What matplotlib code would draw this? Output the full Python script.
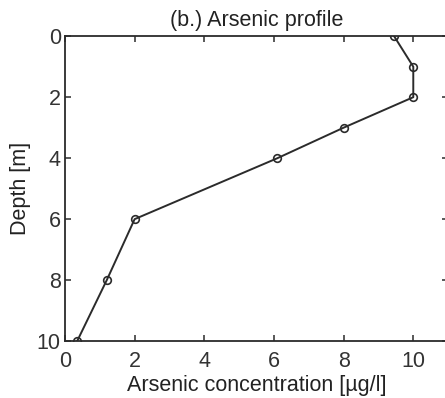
import matplotlib
matplotlib.use("Agg")
import matplotlib.pyplot as plt

# Arsenic concentration profile with depth
depth_m = [0, 1, 2, 3, 4, 6, 8, 10]
arsenic_ugl = [9.45, 10.0, 10.0, 8.0, 6.1, 2.0, 1.2, 0.35]
x_ticks = [0, 2, 4, 6, 8, 10]
y_ticks = [0, 2, 4, 6, 8, 10]

plt.rcParams['font.family'] = ['Liberation Sans', 'DejaVu Sans']

fig = plt.figure(figsize=(4.45, 3.98), dpi=100)
ax = fig.add_axes([0.146, 0.143, 0.861, 0.766])

ink = '#2b2b2b'
ax.plot(arsenic_ugl, depth_m, color=ink, linewidth=1.4,
        marker='o', markersize=5.5, markerfacecolor='none',
        markeredgecolor=ink, markeredgewidth=1.2)

ax.set_xlim(0, 11)
ax.set_ylim(10, 0)
ax.set_xticks(x_ticks)
ax.set_yticks(y_ticks)
ax.tick_params(direction='in', top=True, right=True, length=4, width=1.1,
               color=ink, labelsize=15.5, labelcolor='#333333')
ax.tick_params(axis='x', pad=7)
ax.tick_params(axis='y', pad=3)
for s in ax.spines.values():
    s.set_color(ink)
    s.set_linewidth(1.3)

ax.set_xlabel('Arsenic concentration [µg/l]', fontsize=15.5, color='#222222', labelpad=2)
ax.set_ylabel('Depth [m]', fontsize=15.5, color='#222222', labelpad=4)
ax.set_title('(b.) Arsenic profile', fontsize=15.5, color='#222222', pad=7)

fig.savefig('out.png', dpi=100)
